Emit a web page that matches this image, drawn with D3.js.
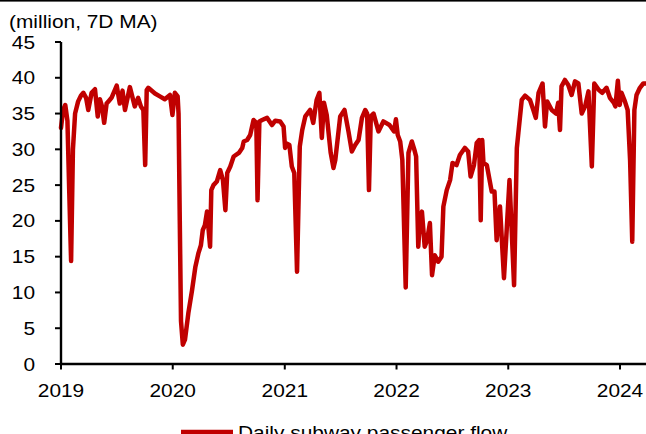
<!DOCTYPE html>
<html><head><meta charset="utf-8">
<script src="https://cdn.jsdelivr.net/npm/d3@7"></script>
<style>html,body{margin:0;padding:0;background:#fff;overflow:hidden}svg{display:block}</style>
</head><body>
<svg id="chart" width="646" height="434"></svg>
<script>
const yearTicks = ["2019","2020","2021","2022","2023","2024"];
const yTicks = [0,5,10,15,20,25,30,35,40,45];
const unitLabel = "(million, 7D MA)";
const seriesName = "Daily subway passenger flow";
const dates = [
"2019-01-01","2019-01-08","2019-01-15","2019-01-22","2019-01-28","2019-02-03","2019-02-09","2019-02-16","2019-02-26","2019-03-07",
"2019-03-15","2019-03-24","2019-03-31","2019-04-11","2019-04-22","2019-05-01","2019-05-08","2019-05-15","2019-05-22","2019-05-30",
"2019-06-07","2019-06-15","2019-07-02","2019-07-12","2019-07-21","2019-07-29","2019-08-14","2019-08-30","2019-09-10","2019-09-19",
"2019-09-27","2019-10-03","2019-10-08","2019-10-13","2019-11-04","2019-11-20","2019-12-06","2019-12-23","2019-12-31","2020-01-08",
"2020-01-17","2020-01-20","2020-01-24","2020-01-28","2020-02-03","2020-02-10","2020-02-21","2020-03-04","2020-03-15","2020-03-25",
"2020-04-02","2020-04-08","2020-04-15","2020-04-22","2020-05-02","2020-05-06","2020-05-13","2020-05-24","2020-06-04","2020-06-13",
"2020-06-21","2020-06-27","2020-07-07","2020-07-18","2020-08-04","2020-08-15","2020-08-20","2020-08-31","2020-09-10","2020-09-21",
"2020-09-30","2020-10-04","2020-10-10","2020-10-19","2020-11-04","2020-11-20","2020-12-01","2020-12-17","2020-12-28","2021-01-02",
"2021-01-08","2021-01-16","2021-01-24","2021-02-01","2021-02-10","2021-02-19","2021-02-27","2021-03-09","2021-03-25","2021-04-04",
"2021-04-15","2021-04-24","2021-05-02","2021-05-09","2021-05-18","2021-05-31","2021-06-09","2021-06-15","2021-07-01","2021-07-15",
"2021-07-28","2021-08-08","2021-08-19","2021-08-30","2021-09-10","2021-09-21","2021-09-27","2021-10-03","2021-10-09","2021-10-18",
"2021-11-03","2021-11-19","2021-12-09","2021-12-24","2021-12-30","2022-01-05","2022-01-13","2022-01-20","2022-01-31","2022-02-09",
"2022-02-20","2022-02-28","2022-03-06","2022-03-13","2022-03-18","2022-03-25","2022-04-03","2022-04-11","2022-04-20","2022-04-27",
"2022-05-06","2022-05-17","2022-05-28","2022-06-03","2022-06-14","2022-06-25","2022-07-03","2022-07-16","2022-07-27","2022-08-12",
"2022-08-23","2022-08-31","2022-09-11","2022-09-20","2022-09-28","2022-10-03","2022-10-08","2022-10-12","2022-10-23","2022-11-08",
"2022-11-17","2022-11-24","2022-12-05","2022-12-18","2023-01-05","2023-01-20","2023-01-29","2023-02-03","2023-02-14","2023-02-25",
"2023-03-13","2023-03-24","2023-04-01","2023-04-10","2023-04-23","2023-05-01","2023-05-08","2023-05-23","2023-06-06","2023-06-13",
"2023-06-19","2023-06-24","2023-07-05","2023-07-16","2023-07-27","2023-08-07","2023-08-18","2023-08-29","2023-09-09","2023-09-20",
"2023-10-01","2023-10-09","2023-10-24","2023-11-04","2023-11-18","2023-11-29","2023-12-12","2023-12-17","2023-12-25","2023-12-31",
"2024-01-06","2024-01-17","2024-01-26","2024-02-03","2024-02-10","2024-02-17","2024-02-24","2024-03-06","2024-03-17","2024-03-31"];
const flow = [
33.0,35.5,36.2,34.0,24.0,14.4,30.0,35.0,36.7,37.5,
37.9,37.2,35.5,37.9,38.4,34.6,37.0,36.0,33.7,36.4,
36.8,37.2,38.9,36.4,38.2,35.5,38.7,36.0,37.2,36.0,
35.5,27.8,38.3,38.6,37.8,37.4,37.0,37.6,34.8,37.9,
37.4,35.0,20.0,6.0,2.7,3.4,7.1,10.3,13.6,15.5,
16.6,18.7,19.4,21.3,16.4,24.3,25.0,25.5,27.1,25.7,
21.5,26.7,27.6,29.0,29.5,30.2,31.1,31.3,32.0,34.1,
33.7,22.9,33.9,34.1,34.4,33.4,34.0,33.9,33.2,30.2,
30.8,30.6,27.6,26.7,12.9,30.4,32.7,34.6,35.5,33.7,
36.9,37.9,31.6,36.5,34.8,29.5,27.4,28.5,34.6,35.5,
32.5,29.7,30.6,31.3,34.4,35.5,35.0,24.3,34.6,35.0,
32.5,33.9,33.4,32.5,34.2,32.0,31.1,28.5,10.7,29.5,
31.1,30.0,29.0,16.4,19.7,21.3,16.4,17.3,19.7,12.4,
15.2,14.3,15.0,22.0,24.3,25.7,28.1,27.8,29.2,30.2,
29.7,26.2,27.8,30.9,31.3,20.1,31.3,28.1,27.8,24.1,
24.1,17.3,22.0,12.0,25.7,11.0,30.2,32.3,36.9,37.5,
36.9,35.5,34.4,37.9,39.2,33.2,36.7,35.5,35.0,36.5,
32.7,38.8,39.7,39.0,37.6,39.5,39.2,35.0,36.0,38.1,
27.6,39.2,38.3,37.9,38.6,37.2,36.5,36.0,39.6,36.2,
37.9,36.7,35.5,28.5,17.1,35.5,37.6,38.6,39.2,39.2];

const W = 646, H = 434;
const svg = d3.select("#chart");
const parse = d3.utcParse("%Y-%m-%d");
const data = dates.map((d,i)=>({date: parse(d), v: flow[i]}));

const x = d3.scaleUtc().domain([parse("2019-01-01"), parse("2024-01-01")]).range([61, 620]);
const y = d3.scaleLinear().domain([0,45]).range([364, 42]);

const FONT = "'Liberation Sans', Arial, sans-serif";
const FS = 18.5, SX = 1.13;
function label(g, txt, px, py, anchor){
  return g.append("text").attr("transform", `translate(${px},${py}) scale(${SX},1)`)
    .attr("text-anchor", anchor).attr("font-family", FONT).attr("font-size", FS)
    .attr("fill", "#000").text(txt);
}

svg.append("rect").attr("x",0).attr("y",0).attr("width",W).attr("height",H).attr("fill","#fff");
svg.append("rect").attr("x",0).attr("y",0).attr("width",W).attr("height",1.6).attr("fill","#000");

// line
const line = d3.line().x(d=>x(d.date)).y(d=>y(d.v)).curve(d3.curveLinear);
svg.append("path").datum(data).attr("d", line).attr("fill","none")
  .attr("stroke","#C00000").attr("stroke-width",4.5).attr("stroke-linejoin","round").attr("stroke-linecap","round");

// y axis
const ga = svg.append("g");
ga.append("line").attr("x1",61).attr("x2",61).attr("y1",y(45)).attr("y2",y(0)+1).attr("stroke","#000").attr("stroke-width",2.4);
yTicks.forEach(t=>{
  ga.append("line").attr("x1",55).attr("x2",61).attr("y1",y(t)).attr("y2",y(t)).attr("stroke","#000").attr("stroke-width",2);
  label(ga, String(t), 35, y(t)+6.6, "end");
});
// x axis
ga.append("line").attr("x1",60).attr("x2",W).attr("y1",y(0)).attr("y2",y(0)).attr("stroke","#000").attr("stroke-width",2.4);
yearTicks.forEach(t=>{
  const px = x(parse(t+"-01-01"));
  ga.append("line").attr("x1",px).attr("x2",px).attr("y1",y(0)).attr("y2",y(0)+5.5).attr("stroke","#000").attr("stroke-width",2);
  label(ga, t, px, 397, "middle");
});

label(svg, unitLabel, 9, 27.5, "start");

// legend
svg.append("line").attr("x1",181).attr("x2",233).attr("y1",432).attr("y2",432).attr("stroke","#C00000").attr("stroke-width",4.5);
label(svg, seriesName, 238, 438.5, "start");
</script>
</body></html>
